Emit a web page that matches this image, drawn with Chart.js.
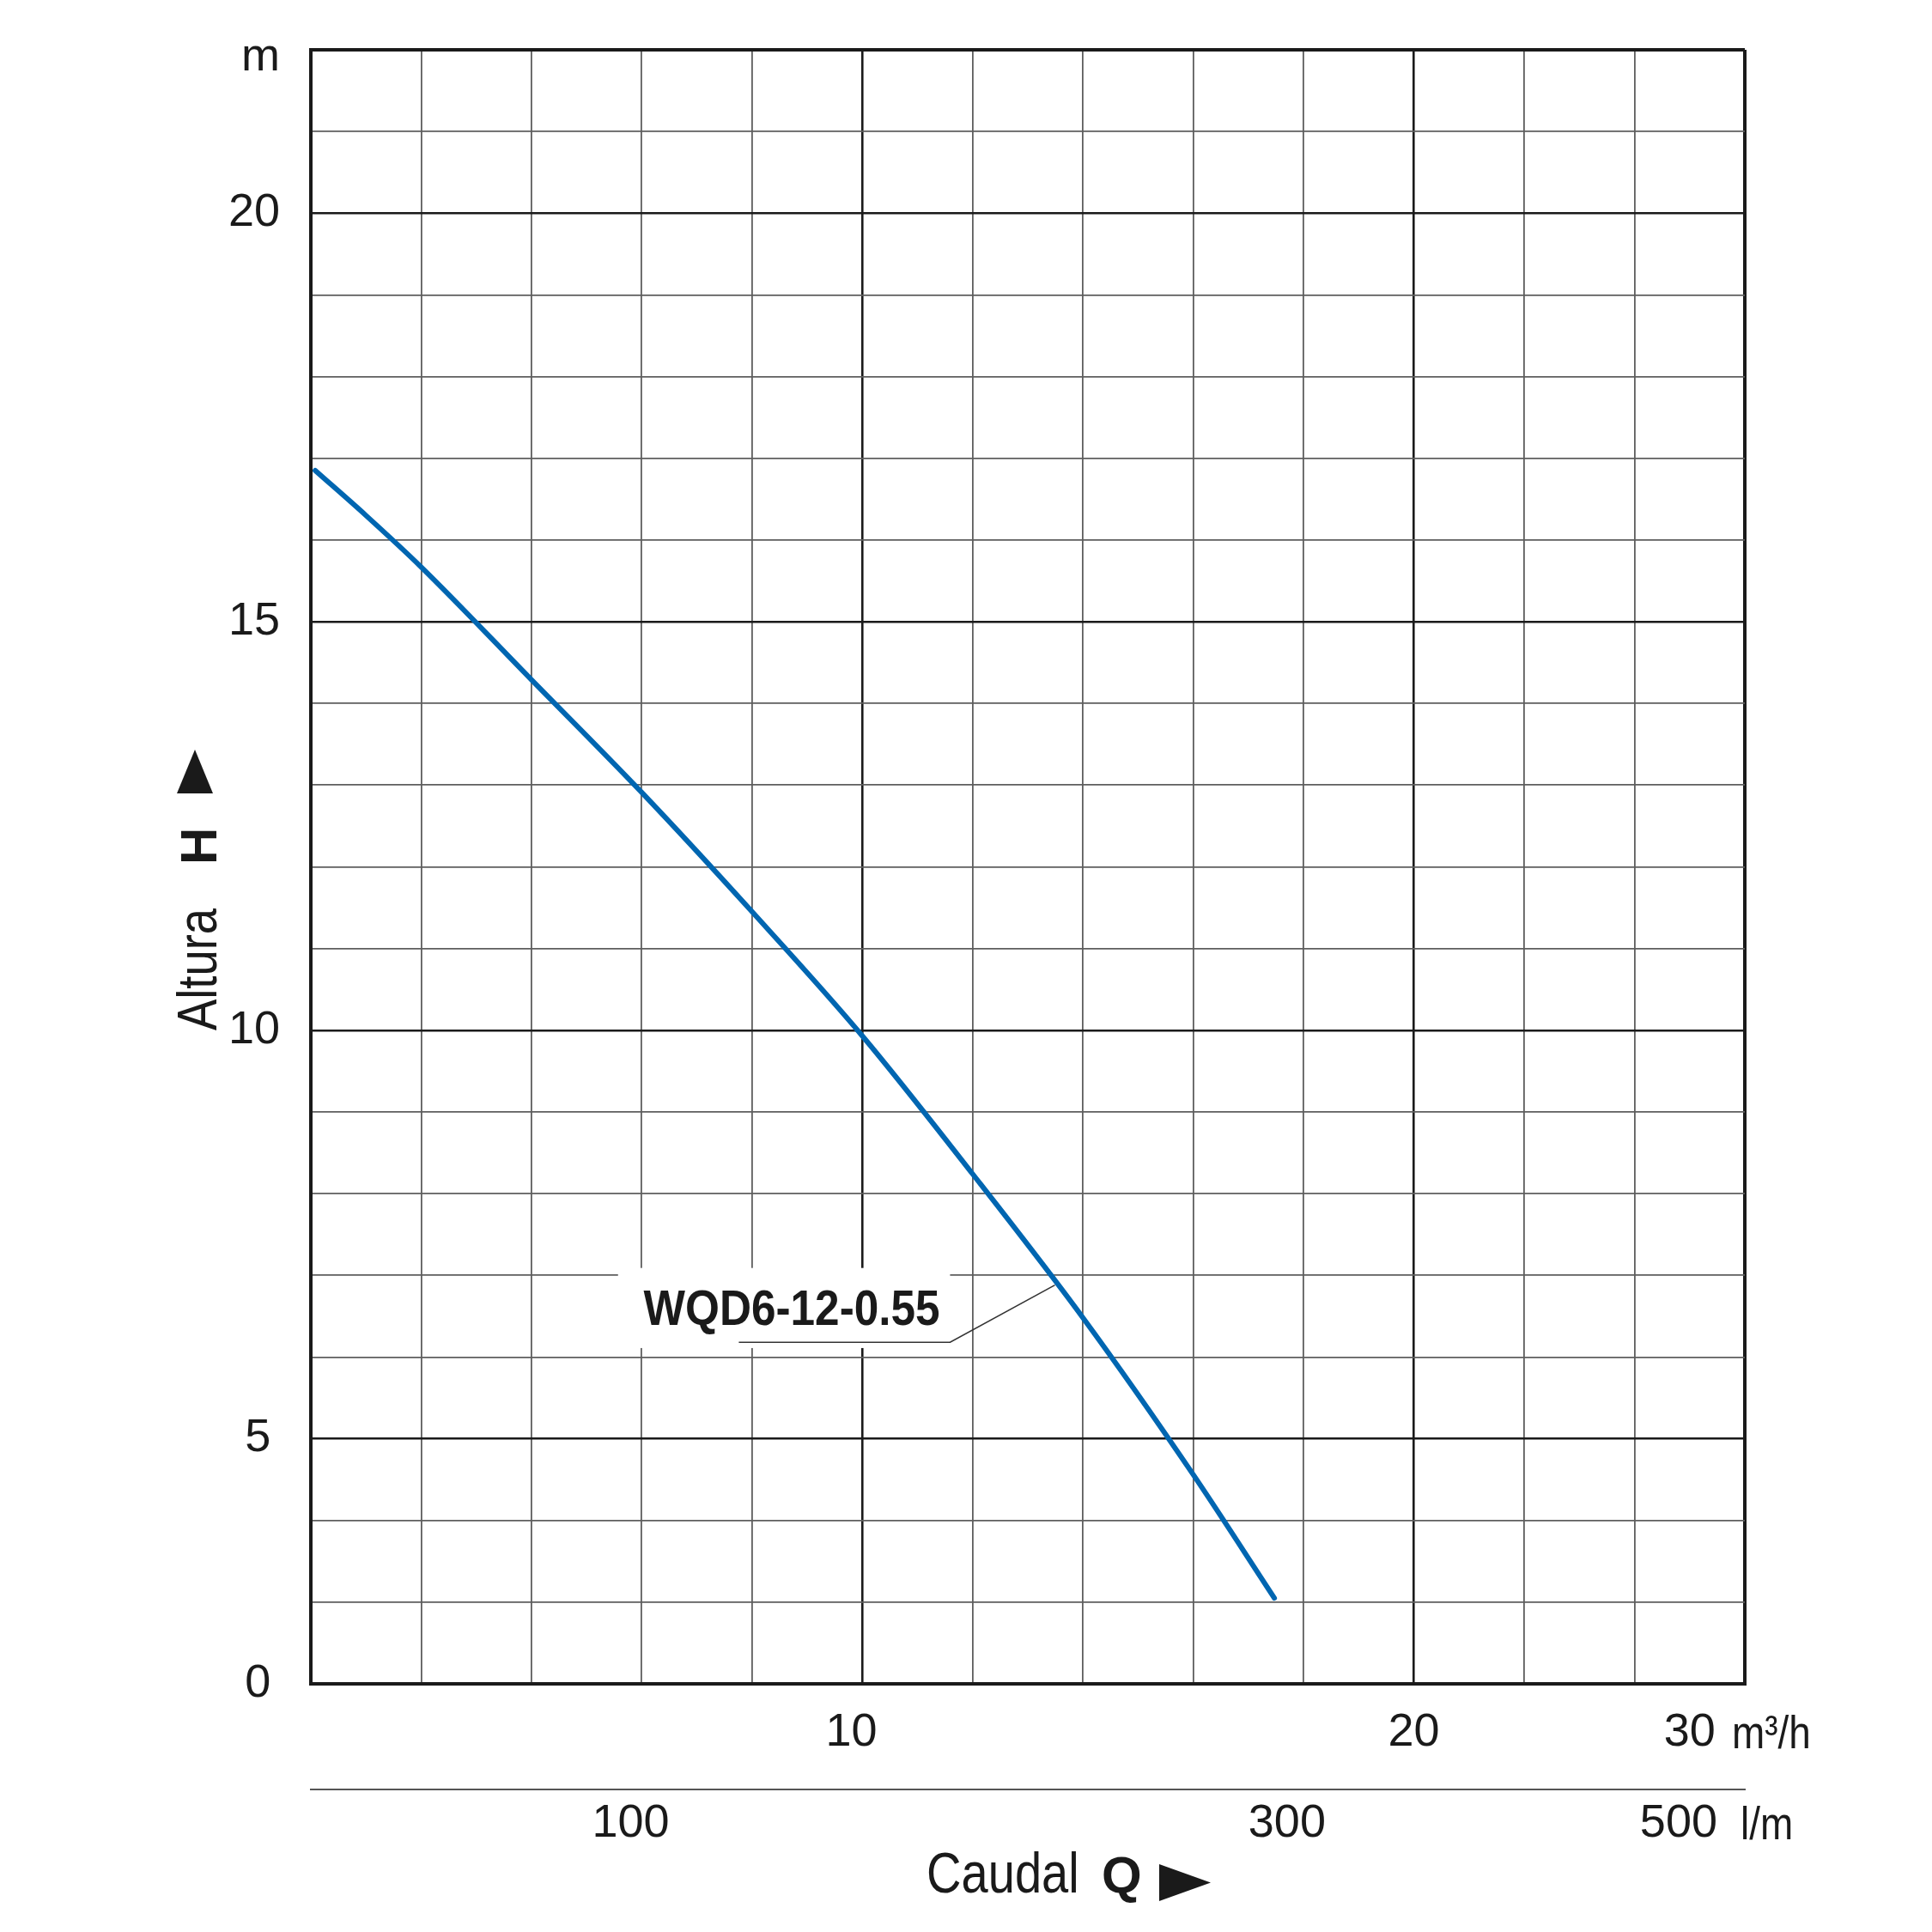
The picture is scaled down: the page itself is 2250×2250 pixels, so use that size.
<!DOCTYPE html>
<html>
<head>
<meta charset="utf-8">
<script src="https://cdn.jsdelivr.net/npm/chart.js@4.4.1/dist/chart.umd.min.js"></script>
<style>
  html, body { margin: 0; padding: 0; background: #fff; }
  #wrap { width: 2250px; height: 2250px; }
</style>
</head>
<body>
<div id="wrap"><canvas id="pumpChart"></canvas></div>
<script>
// WQD6-12-0.55 curve (Q in m3/h, H in m)
var flowM3h = [0.08, 1.0, 2.0, 4.0, 6.0, 8.0, 10.0, 12.0, 14.0, 16.0, 17.47];
var headM   = [16.85, 16.30, 15.67, 14.29, 12.91, 11.45, 9.93, 8.24, 6.48, 4.56, 3.05];

// tick labels, placed where the sheet prints them
var m3hTickPos  = [9.8, 20, 25];
var m3hTickText = ['10', '20', '30'];
var lpmTickPos  = [5.8, 17.7, 24.8];
var lpmTickText = ['100', '300', '500'];
var headTickPos  = [2, 5, 10, 15, 20, 21.9];
var headTickText = ['0\u2009', '5\u2009', '10', '15', '20', 'm'];

var curveName = 'WQD6-12-0.55';

var xMin = 0, xMax = 26, yMin = 2, yMax = 22;
var xMajor = [10, 20];
var yMajor = [5, 10, 15, 20];

var ink = '#1a1a1a';
var gridGray = '#5e5e5e';
var blue = '#0066b1';
var sans = "'Liberation Sans', Arial, Helvetica, sans-serif";
var squeeze = 0.85; // the sheet uses a condensed face

function range(a, b, step) {
  var out = [];
  for (var v = a; v <= b + 1e-9; v += step) out.push(v);
  return out;
}

function mergeTicks(grid, extra) {
  var all = grid.slice();
  extra.forEach(function (v) { if (all.indexOf(v) < 0) all.push(v); });
  return all.sort(function (a, b) { return a - b; }).map(function (v) { return { value: v }; });
}

function gridStyle(majors, lo, hi, step) {
  return {
    color: function (c) {
      var v = c.tick.value;
      if (Math.abs(v / step - Math.round(v / step)) > 1e-6) return 'rgba(0,0,0,0)';
      if (v === lo || v === hi || majors.indexOf(v) >= 0) return ink;
      return gridGray;
    },
    lineWidth: function (c) {
      var v = c.tick.value;
      if (v === lo || v === hi) return 4;
      if (majors.indexOf(v) >= 0) return 2.6;
      return 1.8;
    }
  };
}

function narrowText(ctx, text, x, y, font, sx) {
  ctx.save();
  ctx.font = font;
  ctx.translate(x, y);
  ctx.scale(sx, 1);
  ctx.fillText(text, 0, 0);
  ctx.restore();
}

var points = flowM3h.map(function (q, i) { return { x: q, y: headM[i] }; });

var overlay = {
  id: 'overlay',
  beforeDatasetsDraw: function (chart) {
    var ctx = chart.ctx;
    var x = chart.scales.x, y = chart.scales.y;
    // white label box over the grid
    var bx0 = x.getPixelForValue(5.57), bx1 = x.getPixelForValue(11.59);
    var by0 = y.getPixelForValue(7.09), by1 = y.getPixelForValue(6.11);
    ctx.save();
    ctx.fillStyle = '#fff';
    ctx.fillRect(bx0, by0, bx1 - bx0, by1 - by0);
    // leader line to the curve
    ctx.strokeStyle = '#333';
    ctx.lineWidth = 1.6;
    ctx.beginPath();
    ctx.moveTo(x.getPixelForValue(7.76), y.getPixelForValue(6.18));
    ctx.lineTo(x.getPixelForValue(11.59), y.getPixelForValue(6.18));
    ctx.lineTo(x.getPixelForValue(13.49), y.getPixelForValue(6.88));
    ctx.stroke();
    ctx.fillStyle = ink;
    ctx.textAlign = 'center';
    ctx.textBaseline = 'alphabetic';
    narrowText(ctx, curveName, x.getPixelForValue(8.72), y.getPixelForValue(6.39), 'bold 57px ' + sans, 0.9);
    ctx.restore();
  },
  afterDraw: function (chart) {
    var ctx = chart.ctx;
    ctx.save();
    ctx.fillStyle = ink;
    ctx.textBaseline = 'alphabetic';
    ctx.textAlign = 'left';

    // unit labels at the end of both flow scales
    narrowText(ctx, 'm³/h', 2017, 2036, '54px ' + sans, squeeze);
    narrowText(ctx, 'l/m', 2027, 2142, '54px ' + sans, squeeze);

    // bottom title: Caudal Q
    narrowText(ctx, 'Caudal', 1079, 2204, '66px ' + sans, squeeze);
    ctx.font = 'bold 60px ' + sans;
    ctx.fillText('Q', 1283, 2204);
    ctx.beginPath();
    ctx.moveTo(1350, 2171);
    ctx.lineTo(1350, 2214);
    ctx.lineTo(1410, 2192.5);
    ctx.closePath();
    ctx.fill();

    // left title, rotated: Altura H
    ctx.translate(252, 1200);
    ctx.rotate(-Math.PI / 2);
    narrowText(ctx, 'Altura', 0, 0, '64px ' + sans, squeeze);
    ctx.font = 'bold 60px ' + sans;
    ctx.fillText('H', 193, 0);
    ctx.beginPath();
    ctx.moveTo(276, -4);
    ctx.lineTo(276, -46);
    ctx.lineTo(327, -25);
    ctx.closePath();
    ctx.fill();
    ctx.restore();
  }
};

var tickFont = { family: sans, size: 54 };

var ctx = document.getElementById('pumpChart').getContext('2d');
var pumpChart = new Chart(ctx, {
  type: 'line',
  data: {
    datasets: [{
      label: curveName,
      data: points,
      borderColor: blue,
      borderWidth: 6,
      borderCapStyle: 'round',
      pointRadius: 0,
      cubicInterpolationMode: 'monotone',
      fill: false
    }]
  },
  options: {
    responsive: true,
    maintainAspectRatio: false,
    devicePixelRatio: 1,
    animation: false,
    layout: { padding: { top: 58, right: 218, bottom: 0, left: 0 } },
    plugins: {
      legend: { display: false },
      tooltip: { enabled: false }
    },
    scales: {
      x: {
        type: 'linear',
        position: 'bottom',
        weight: 0,
        min: xMin,
        max: xMax,
        afterBuildTicks: function (scale) {
          scale.ticks = mergeTicks(range(xMin, xMax, 2), m3hTickPos);
        },
        afterFit: function (scale) {
          scale.height = 123;
          scale.paddingLeft = 0;
          scale.paddingRight = 0;
        },
        grid: Object.assign({ drawTicks: false }, gridStyle(xMajor, xMin, xMax, 2)),
        border: { display: true, color: ink, width: 4 },
        ticks: {
          autoSkip: false,
          maxRotation: 0,
          padding: 25,
          color: ink,
          font: tickFont,
          callback: function (value) {
            var i = m3hTickPos.indexOf(value);
            return i >= 0 ? m3hTickText[i] : '';
          }
        }
      },
      x2: {
        type: 'linear',
        position: 'bottom',
        weight: 1,
        min: xMin,
        max: xMax,
        afterBuildTicks: function (scale) {
          scale.ticks = lpmTickPos.map(function (v) { return { value: v }; });
        },
        afterFit: function (scale) {
          scale.height = 166;
          scale.paddingLeft = 0;
          scale.paddingRight = 0;
        },
        grid: { display: false, drawTicks: false },
        border: { display: true, color: '#555', width: 2 },
        ticks: {
          autoSkip: false,
          maxRotation: 0,
          padding: 8,
          color: ink,
          font: tickFont,
          callback: function (value) {
            var i = lpmTickPos.indexOf(value);
            return i >= 0 ? lpmTickText[i] : '';
          }
        }
      },
      y: {
        type: 'linear',
        min: yMin,
        max: yMax,
        afterBuildTicks: function (scale) {
          scale.ticks = mergeTicks(range(yMin, yMax, 1), headTickPos);
        },
        afterFit: function (scale) {
          scale.width = 362;
          scale.paddingTop = 0;
          scale.paddingBottom = 0;
        },
        grid: Object.assign({ drawTicks: false }, gridStyle(yMajor, yMin, yMax, 1)),
        border: { display: true, color: ink, width: 4 },
        ticks: {
          autoSkip: false,
          padding: 36,
          color: ink,
          font: tickFont,
          callback: function (value) {
            var i = headTickPos.indexOf(value);
            return i >= 0 ? headTickText[i] : '';
          }
        }
      }
    }
  },
  plugins: [overlay]
});
</script>
</body>
</html>
